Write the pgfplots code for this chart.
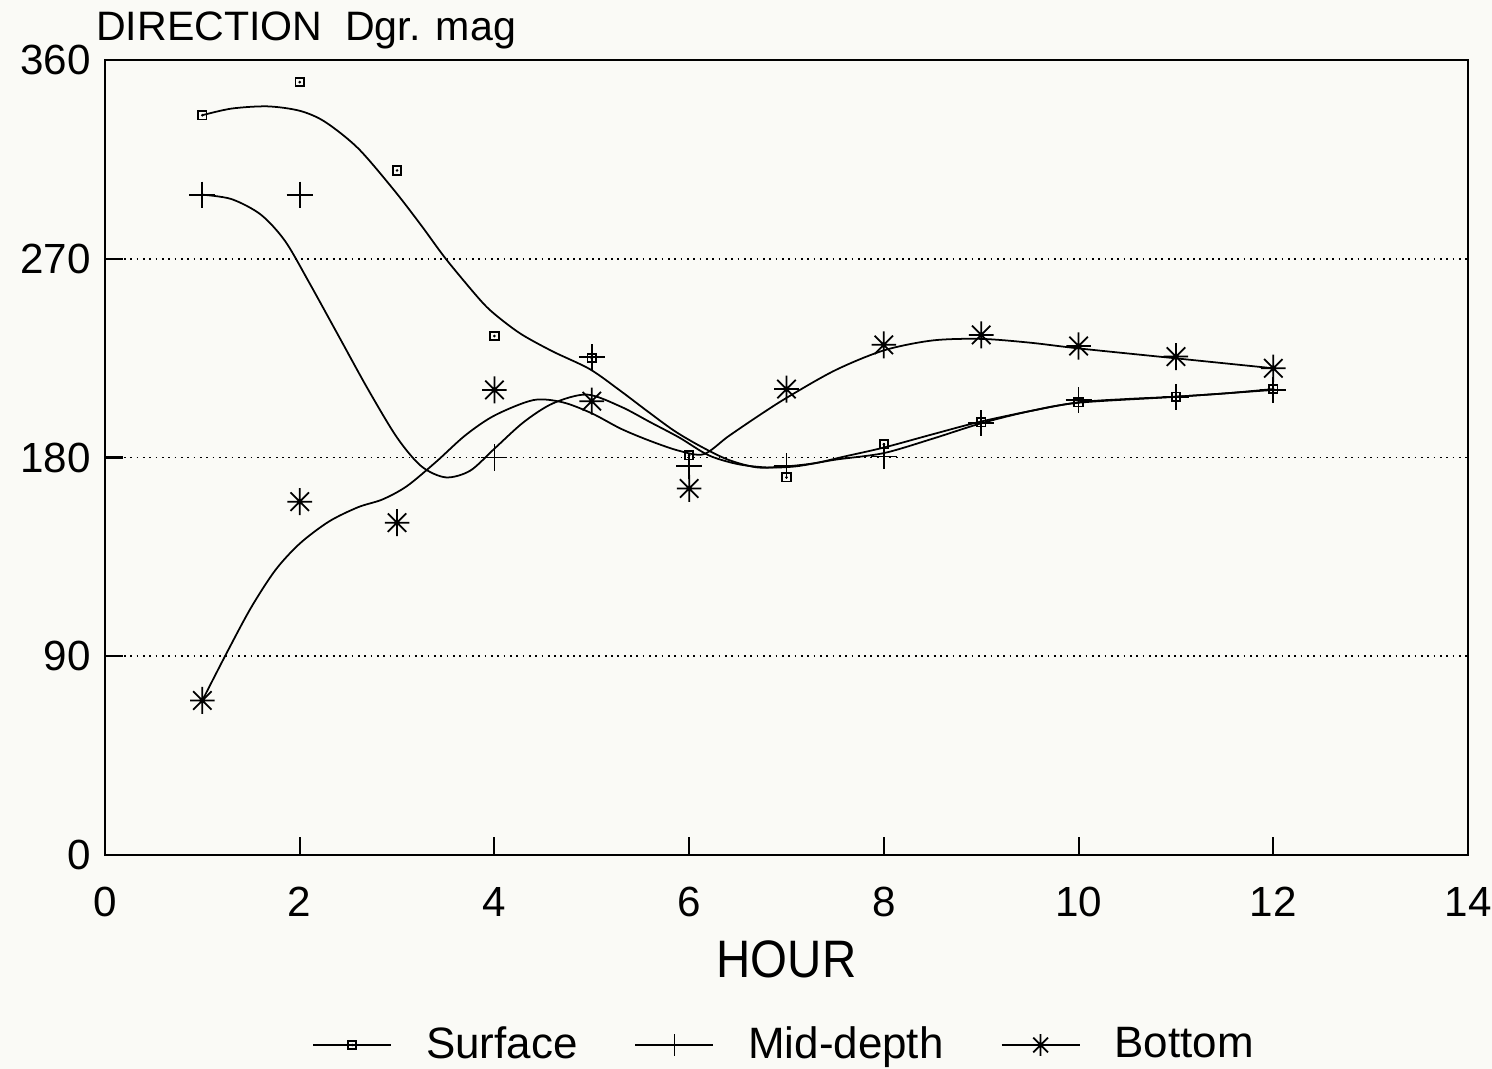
\documentclass[border=0pt]{standalone}
\usepackage{fontspec}
\setmainfont{Liberation Sans}
\usepackage{pgfplots}
\pgfplotsset{compat=1.18}

% small square with a dot in it
\pgfdeclareplotmark{sqdot}{%
  \pgfpathrectangle{\pgfpoint{-\pgfplotmarksize}{-\pgfplotmarksize}}{\pgfpoint{2\pgfplotmarksize}{2\pgfplotmarksize}}%
  \pgfusepathqstroke
  \pgfpathcircle{\pgfpointorigin}{0.35\pgfplotmarksize}%
  \pgfusepathqfill}
% eight-armed asterisk
\pgfdeclareplotmark{ast8}{%
  \pgfpathmoveto{\pgfpoint{-\pgfplotmarksize}{0pt}}\pgfpathlineto{\pgfpoint{\pgfplotmarksize}{0pt}}%
  \pgfpathmoveto{\pgfpoint{0pt}{-1.1\pgfplotmarksize}}\pgfpathlineto{\pgfpoint{0pt}{1.1\pgfplotmarksize}}%
  \pgfpathmoveto{\pgfpoint{-0.75\pgfplotmarksize}{-0.75\pgfplotmarksize}}\pgfpathlineto{\pgfpoint{0.75\pgfplotmarksize}{0.75\pgfplotmarksize}}%
  \pgfpathmoveto{\pgfpoint{-0.75\pgfplotmarksize}{0.75\pgfplotmarksize}}\pgfpathlineto{\pgfpoint{0.75\pgfplotmarksize}{-0.75\pgfplotmarksize}}%
  \pgfusepathqstroke}

\pgfplotsset{
  linemarklegend/.style={
    legend image code/.code={
      \draw[##1,mark=none] (0cm,0cm) -- (0.78cm,0cm);
      \draw[##1,only marks] plot coordinates {(0.39cm,0cm)};
    }
  }
}
\definecolor{paper}{RGB}{250,250,246}

\begin{document}
\begin{tikzpicture}
\fill[paper] (0,0) rectangle (14.92,-10.69);
\path[use as bounding box] (0,0) rectangle (14.92,-10.69);
\begin{axis}[
  at={(1.05cm,-8.55cm)}, anchor=south west,
  scale only axis, width=13.63cm, height=7.95cm,
  xmin=0, xmax=14, ymin=0, ymax=360,
  xtick={0,2,...,14}, ytick={0,90,180,270,360},
  xtick pos=bottom, ytick pos=left, tick align=inside,
  major tick length=0.18cm,
  every tick/.style={black, line width=0.6pt},
  axis line style={line width=0.7pt},
  ymajorgrids,
  grid style={black, line width=0.5pt, dash pattern=on 0.5pt off 1.3pt},
  tick label style={font=\fontsize{12}{14}\selectfont},
  /pgf/number format/assume math mode=true,
  xticklabel style={yshift=-0.2cm},
  yticklabel style={xshift=-0.02cm},
  clip=false,
  linemarklegend,
  legend style={at={(0.5,-0.239)}, anchor=center, draw=none, fill=none,
    legend columns=3, font=\fontsize{12.5}{14}\selectfont,
    /tikz/every odd column/.append style={column sep=0.27cm},
    /tikz/every even column/.append style={column sep=0.5cm}},
]
% fitted curves
\addplot[black, line width=0.5pt, smooth, forget plot] coordinates {
  (1.0,335) (1.3,338) (1.67,339) (2.0,337) (2.26,332) (2.6,320) (2.97,301)
  (3.25,285) (3.5,270) (3.84,252) (4.0,245) (4.27,236) (4.6,228) (4.98,220)
  (5.3,210) (5.57,201) (5.85,192) (6.12,185) (6.4,179) (6.7,175.5) (7.0,176)
  (7.3,177.5) (7.6,180.5) (8.0,184.5) (8.5,190.5) (8.97,196) (9.5,201)
  (10.0,205) (10.5,206.5) (10.98,207.5) (11.5,209) (12.0,211)
};
\addplot[black, line width=0.5pt, smooth, forget plot] coordinates {
  (1.0,299) (1.3,297) (1.6,290) (1.85,278) (2.1,259) (2.4,235) (2.7,211)
  (3.0,189) (3.25,176) (3.5,171) (3.75,174) (4.0,184) (4.3,196) (4.6,204.5)
  (4.95,208.5) (5.3,203) (5.6,196) (5.9,189) (6.2,181) (6.5,177) (6.8,175.5)
  (7.1,176) (7.5,179) (8.0,182) (8.5,188.5) (9.0,195.5) (9.5,201)
  (10.0,204.8) (11.0,207.5) (12.0,210.6)
};
\addplot[black, line width=0.5pt, smooth, forget plot] coordinates {
  (1.0,70) (1.25,91.5) (1.5,112) (1.75,129) (2.0,141) (2.3,151) (2.6,157.5)
  (2.85,161) (3.1,167) (3.4,178) (3.7,190) (4.0,199) (4.4,206) (4.7,205)
  (5.0,200) (5.3,193) (5.6,187.5) (5.9,183) (6.15,181.5) (6.4,189.5)
  (6.7,198.5) (7.0,207) (7.5,219.5) (8.0,228.5) (8.5,233) (9.0,233.7)
  (9.5,232) (10.0,229.4) (11.0,224.9) (12.0,220.4)
};
% observations
\addplot[black, line width=0.5pt, only marks, mark=sqdot, mark size=1.2pt, forget plot] coordinates {
  (1,335) (2,350) (3,310) (4,235) (5,225) (6,181) (7,171) (8,186) (9,196)
  (10,205) (11,207.5) (12,211)
};
\addplot[black, line width=0.5pt, only marks, mark=+, mark size=3.7pt, forget plot] coordinates {
  (1,299) (2,299) (4,180) (5,225.5) (6,176) (7,176) (8,180.5) (9,195.5)
  (10,206) (11,207.5) (12,210.6)
};
\addplot[black, line width=0.5pt, only marks, mark=ast8, mark size=3.5pt, forget plot] coordinates {
  (1,70) (2,160) (3,150.5) (4,210.6) (5,205.5) (6,166) (7,211) (8,231)
  (9,235.5) (10,230.5) (11,225.7) (12,220.4)
};
\addlegendimage{black, line width=0.5pt, mark=sqdot, mark size=1.1pt}
\addlegendentry{Surface}
\addlegendimage{black, line width=0.5pt, mark=+, mark size=3pt}
\addlegendentry{Mid-depth}
\addlegendimage{black, line width=0.5pt, mark=ast8, mark size=2.8pt}
\addlegendentry{Bottom}
\node[anchor=base west, font=\fontsize{11.7}{14}\selectfont] at (axis description cs:-0.0155,1.025) {DIRECTION\ \ Dgr. mag};
\node[anchor=center] at (axis description cs:0.5,-0.131) {\scalebox{0.9}[1]{\fontsize{15}{18}\selectfont HOUR}};
\end{axis}
\end{tikzpicture}
\end{document}
